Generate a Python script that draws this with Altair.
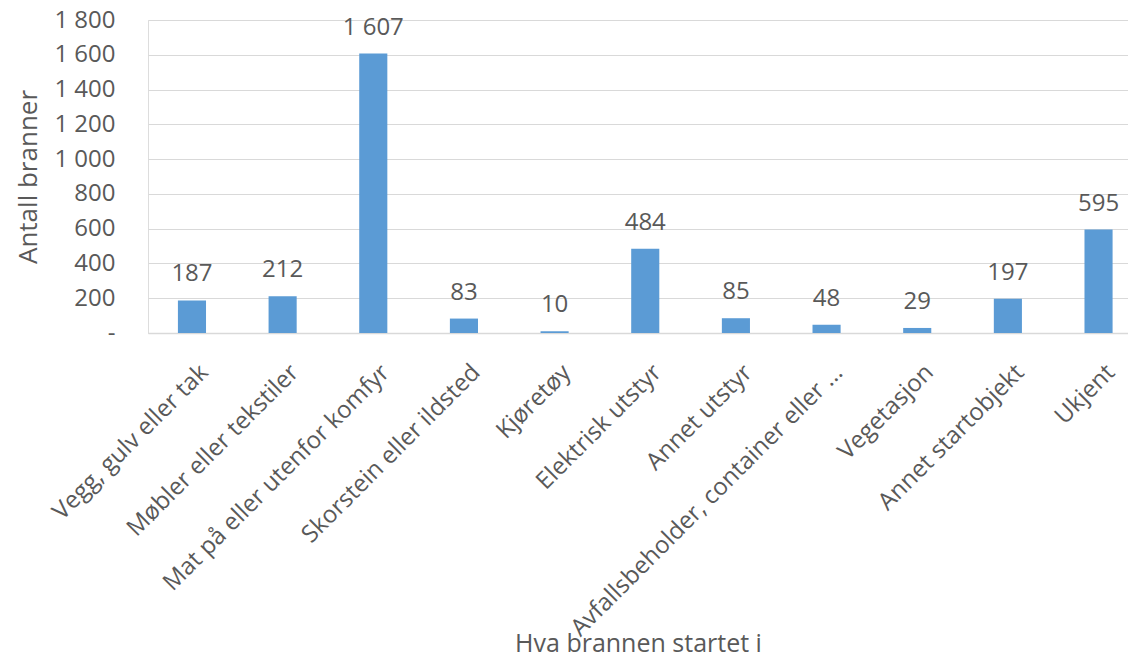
import altair as alt
import pandas as pd

categories = [
    "Vegg, gulv eller tak",
    "Møbler eller tekstiler",
    "Mat på eller utenfor komfyr",
    "Skorstein eller ildsted",
    "Kjøretøy",
    "Elektrisk utstyr",
    "Annet utstyr",
    "Avfallsbeholder, container eller ...",
    "Vegetasjon",
    "Annet startobjekt",
    "Ukjent",
]
values = [187, 212, 1607, 83, 10, 484, 85, 48, 29, 197, 595]
y_ticks = [0, 200, 400, 600, 800, 1000, 1200, 1400, 1600, 1800]

df = pd.DataFrame({"kategori": categories, "antall": values})
df["etikett"] = [f"{v:,}".replace(",", " ") for v in values]

FONT = "Open Sans"
GREY = "#595959"
GRID = "#D9D9D9"
BAR = "#5B9BD5"

x = alt.X(
    "kategori:N",
    sort=categories,
    title="Hva brannen startet i",
    scale=alt.Scale(paddingInner=0.69, paddingOuter=0.25, align=0.66),
    axis=alt.Axis(
        labelAngle=-45,
        labelAlign="right",
        labelBaseline="top",
        labelFontSize=24,
        labelColor=GREY,
        labelFont=FONT,
        labelLimit=600,
        labelOverlap=False,
        labelPadding=27,
        labelOffset=4,
        ticks=False,
        domainColor=GRID,
        domainWidth=1.5,
        titleFontSize=25,
        titleColor=GREY,
        titleFont=FONT,
        titleFontWeight="normal",
        titleY=310,
        titleBaseline="middle",
    ),
)

y = alt.Y(
    "antall:Q",
    title="Antall branner",
    scale=alt.Scale(domain=[0, 1800], nice=False),
    axis=alt.Axis(
        values=y_ticks,
        tickCount=20,
        labelExpr="datum.value == 0 ? '-' : replace(format(datum.value, ','), ',', ' ')",
        labelOverlap=False,
        ticks=False,
        domain=False,
        gridColor=GRID,
        gridWidth=1.2,
        labelPadding=33,
        labelFontSize=24,
        labelColor=GREY,
        labelFont=FONT,
        titleFontSize=26,
        titleColor=GREY,
        titleFont=FONT,
        titleFontWeight="normal",
        titleX=-107,
    ),
)

bars = alt.Chart(df).mark_bar(color=BAR).encode(x=x, y=y)
labels = alt.Chart(df).mark_text(
    dy=-19, baseline="alphabetic", fontSize=24, color=GREY, font=FONT
).encode(x=alt.X("kategori:N", sort=categories), y="antall:Q", text="etikett:N")

chart = (
    alt.layer(bars, labels)
    .properties(
        width=980,
        height=313,
        autosize=alt.AutoSizeParams(type="none"),
        padding={"left": 140, "top": 12, "right": 0, "bottom": 326},
    )
    .configure_view(stroke=None)
    .configure(background="white")
)

chart.save("out.html", embed_options={"renderer": "svg", "actions": False})
